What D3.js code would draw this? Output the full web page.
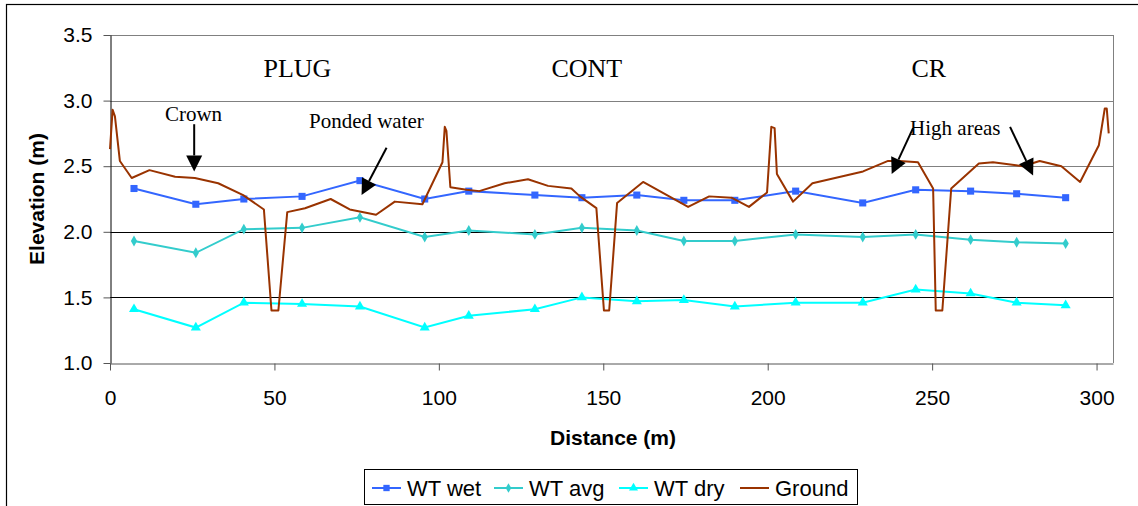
<!DOCTYPE html>
<html lang="en">
<head>
    <meta charset="UTF-8">
    <title>Water table and ground elevation</title>
    <script src="https://d3js.org/d3.v7.min.js"></script>
    <style>
        body { margin: 0; padding: 0; background: #fff; }
        svg { display: block; }
        .tick text { font-family: "Liberation Sans", Arial, sans-serif; font-size: 21px; fill: #000; }
        .axis-title { font-family: "Liberation Sans", Arial, sans-serif; font-size: 21px; font-weight: bold; }
        .note { font-family: "Liberation Serif", "Times New Roman", serif; fill: #000; }
        .legend text { font-family: "Liberation Sans", Arial, sans-serif; font-size: 22px; }
    </style>
</head>
<body>
<div id="chart"></div>
<script>
    // well positions along the transect (m)
    const wellX = [7.3, 26.1, 40.7, 58.4, 76, 95.7, 109.1, 129.2, 143.5, 160.2, 174.5, 190, 208.5, 228.9, 245, 261.7, 275.7, 290.6];
    const wtWet = [2.33, 2.21, 2.25, 2.27, 2.39, 2.25, 2.31, 2.28, 2.26, 2.28, 2.24, 2.24, 2.31, 2.22, 2.32, 2.31, 2.29, 2.26];
    const wtAvg = [1.93, 1.84, 2.02, 2.03, 2.11, 1.96, 2.01, 1.98, 2.03, 2.01, 1.93, 1.93, 1.98, 1.96, 1.98, 1.94, 1.92, 1.91];
    const wtDry = [1.41, 1.27, 1.46, 1.45, 1.43, 1.27, 1.36, 1.41, 1.50, 1.47, 1.48, 1.43, 1.46, 1.46, 1.56, 1.53, 1.46, 1.44];

    // ground survey
    const groundX = [0, 0.8, 1.5, 3, 6.6, 12, 19.8, 25.8, 32.9, 40.5, 46.8, 49.1, 51.2, 53.9, 59.3, 67.1, 72.9, 80.9, 86.6, 95,
        101.1, 101.8, 102.3, 103.5, 108.4, 112.3, 120, 127.1, 133.2, 140.3, 142.9, 147.9, 150.2, 151.8, 154.2, 162.1, 175.8,
        182.2, 189, 194.3, 199.8, 201.1, 202.1, 202.8, 207.7, 213.6, 229, 236.6, 240.1, 245.7, 250.3, 251.1, 253.1, 255.8,
        264.2, 268.5, 277.6, 282.7, 289.3, 295, 300.7, 302.5, 303.1, 303.7];
    const groundY = [2.63, 2.93, 2.88, 2.54, 2.41, 2.47, 2.42, 2.41, 2.37, 2.28, 2.17, 1.40, 1.40, 2.15, 2.18, 2.25, 2.17, 2.13, 2.23, 2.21,
        2.53, 2.80, 2.77, 2.34, 2.32, 2.31, 2.37, 2.40, 2.35, 2.33, 2.27, 2.18, 1.40, 1.40, 2.22, 2.38, 2.19,
        2.27, 2.26, 2.19, 2.30, 2.80, 2.79, 2.44, 2.23, 2.37, 2.46, 2.54, 2.54, 2.53, 2.33, 1.40, 1.40, 2.33,
        2.52, 2.53, 2.50, 2.54, 2.50, 2.38, 2.66, 2.94, 2.94, 2.75];

    const xTicks = [0, 50, 100, 150, 200, 250, 300];
    const yTicks = [1.0, 1.5, 2.0, 2.5, 3.0, 3.5];

    const sectionNames = ["PLUG", "CONT", "CR"];
    const sectionX = [57, 145, 249];

    const seriesNames = ["WT wet", "WT avg", "WT dry", "Ground"];
    const seriesColors = ["#3366ff", "#33cccc", "#00ffff", "#993300"];

    const W = 1138, H = 506;
    const margin = { top: 35, right: 25, bottom: 143, left: 110 };

    const svg = d3.select("#chart").append("svg")
        .attr("width", W)
        .attr("height", H);

    // outer chart frame (runs off the right and bottom of the picture)
    svg.append("rect")
        .attr("x", 6.5).attr("y", 4.5)
        .attr("width", W + 10).attr("height", H + 10)
        .attr("fill", "none").attr("stroke", "#000").attr("stroke-width", 1.2);

    const x = d3.scaleLinear().domain([0, 305]).range([margin.left, W - margin.right]);
    const y = d3.scaleLinear().domain([1, 3.5]).range([H - margin.bottom, margin.top]);

    // gridlines
    svg.append("g").selectAll("line")
        .data(yTicks.filter(d => d > 1))
        .join("line")
        .attr("x1", x(0)).attr("x2", x(305))
        .attr("y1", d => Math.round(y(d)) + 0.5).attr("y2", d => Math.round(y(d)) + 0.5)
        .attr("stroke", d => (d === 2.0 || d === 1.5) ? "#000" : "#808080")
        .attr("stroke-width", 1);

    // right border of plot area
    svg.append("line")
        .attr("x1", x(305) + 0.5).attr("x2", x(305) + 0.5)
        .attr("y1", y(3.5)).attr("y2", y(1))
        .attr("stroke", "#808080");

    const xAxis = svg.append("g")
        .attr("transform", `translate(0,${Math.round(y(1)) + 0.5})`)
        .call(d3.axisBottom(x).tickValues(xTicks).tickSize(7).tickPadding(20).tickSizeOuter(0).tickFormat(d3.format("d")));
    xAxis.select(".domain").attr("stroke", "#555");
    xAxis.selectAll(".tick line").attr("stroke", "#555");

    const yAxis = svg.append("g")
        .attr("transform", `translate(${Math.round(x(0)) + 0.5},0)`)
        .call(d3.axisLeft(y).tickValues(yTicks).tickSize(7).tickPadding(11).tickSizeOuter(0).tickFormat(d3.format(".1f")));
    yAxis.select(".domain").attr("stroke", "#000");
    yAxis.selectAll(".tick line").attr("stroke", "#555");

    svg.append("text").attr("class", "axis-title")
        .attr("text-anchor", "middle")
        .attr("transform", `translate(44,${(y(1) + y(3.5)) / 2}) rotate(-90)`)
        .text("Elevation (m)");

    svg.append("text").attr("class", "axis-title")
        .attr("text-anchor", "middle")
        .attr("x", 613).attr("y", 445)
        .text("Distance (m)");

    // series
    const line = d3.line().x(d => x(d[0])).y(d => y(d[1]));

    const ground = groundX.map((v, i) => [v, groundY[i]]);
    const wells = [wtWet, wtAvg, wtDry].map(s => wellX.map((v, i) => [v, s[i]]));
    const symbols = [d3.symbolSquare, d3.symbolDiamond, d3.symbolTriangle];
    const symSize = [50, 34, 44];

    const plot = svg.append("g");

    // water table lines drawn under the ground line
    wells.forEach((pts, k) => {
        plot.append("path")
            .datum(pts)
            .attr("fill", "none")
            .attr("stroke", seriesColors[k])
            .attr("stroke-width", 2)
            .attr("d", line);
        plot.append("g").selectAll("path")
            .data(pts)
            .join("path")
            .attr("transform", d => `translate(${x(d[0])},${y(d[1])})`)
            .attr("d", d3.symbol().type(symbols[k]).size(symSize[k]))
            .attr("fill", seriesColors[k]);
    });

    plot.append("path")
        .datum(ground)
        .attr("fill", "none")
        .attr("stroke", seriesColors[3])
        .attr("stroke-width", 2)
        .attr("stroke-linejoin", "round")
        .attr("d", line);

    // section labels
    svg.append("g").selectAll("text")
        .data(sectionNames)
        .join("text")
        .attr("class", "note")
        .attr("text-anchor", "middle")
        .attr("x", (d, i) => x(sectionX[i]))
        .attr("y", 77)
        .style("font-size", "26px")
        .text(d => d);

    // annotations with arrows (data coords)
    const notes = [
        { text: "Crown", tx: 16.7, ty: 2.847, from: [25.6, 2.82], to: [25.6, 2.46] },
        { text: "Ponded water", tx: 60.5, ty: 2.79, from: [84.1, 2.64], to: [76.5, 2.28] },
        { text: "High areas", tx: 243.3, ty: 2.74, from: [244.2, 2.79], to: [237.7, 2.44] },
        { text: "", tx: 0, ty: 0, from: [273.7, 2.80], to: [280.7, 2.43] }
    ];

    const ann = svg.append("g");
    notes.forEach(n => {
        if (n.text) {
            ann.append("text").attr("class", "note")
                .attr("x", x(n.tx)).attr("y", y(n.ty))
                .style("font-size", "21px")
                .text(n.text);
        }
        const x1 = x(n.from[0]), y1 = y(n.from[1]);
        const x2 = x(n.to[0]), y2 = y(n.to[1]);
        const ang = Math.atan2(y2 - y1, x2 - x1);
        const hl = 16, hw = 8;
        const bx = x2 - hl * Math.cos(ang), by = y2 - hl * Math.sin(ang);
        ann.append("line")
            .attr("x1", x1).attr("y1", y1).attr("x2", bx).attr("y2", by)
            .attr("stroke", "#000").attr("stroke-width", 2);
        const px = -Math.sin(ang) * hw, py = Math.cos(ang) * hw;
        ann.append("path")
            .attr("d", `M${x2},${y2}L${bx + px},${by + py}L${bx - px},${by - py}Z`)
            .attr("fill", "#000");
    });

    // legend
    const legend = svg.append("g").attr("class", "legend");
    legend.append("rect")
        .attr("x", 364.5).attr("y", 469.5).attr("width", 493).attr("height", 35)
        .attr("fill", "#fff").attr("stroke", "#000");
    const legX = [372, 494, 619, 740];
    seriesNames.forEach((name, i) => {
        const g = legend.append("g").attr("transform", `translate(${legX[i]},488)`);
        g.append("line").attr("x1", 0).attr("x2", 29).attr("y1", 0).attr("y2", 0)
            .attr("stroke", seriesColors[i]).attr("stroke-width", 2);
        if (i < 3) {
            g.append("path")
                .attr("transform", "translate(14.5,0)")
                .attr("d", d3.symbol().type(symbols[i]).size(symSize[i] * 0.8))
                .attr("fill", seriesColors[i]);
        }
        g.append("text").attr("x", 35).attr("y", 8).text(name);
    });
</script>
</body>
</html>
